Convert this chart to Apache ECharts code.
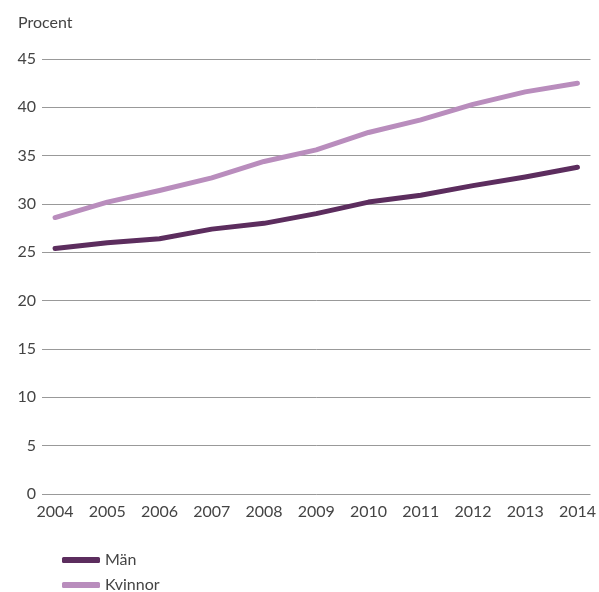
<!DOCTYPE html>
<html><head><meta charset="utf-8">
<script src="https://cdn.jsdelivr.net/npm/echarts@6/dist/echarts.min.js"></script>
<style>html,body{margin:0;padding:0;background:#fff}#c{width:599px;height:592px}</style>
</head><body><div id="c"></div>
<script>
const years = [2004,2005,2006,2007,2008,2009,2010,2011,2012,2013,2014];
const man = [25.4,26.0,26.4,27.4,28.0,29.0,30.2,30.9,31.9,32.8,33.8];
const kvinnor = [28.6,30.2,31.4,32.7,34.4,35.6,37.4,38.7,40.3,41.6,42.5];
const yTicks = [0,5,10,15,20,25,30,35,40,45];

const font = 'Lato';
const legendText = {fontFamily:font,fontSize:16,color:'#444'};
const chart = echarts.init(document.getElementById('c'));
chart.setOption({
  animation:false,
  textStyle:{fontFamily:font},
  title:{text:'Procent',left:13,top:10,textStyle:{fontFamily:font,fontSize:16,fontWeight:'normal',color:'#444'}},
  grid:{left:42,right:1,top:59,bottom:98},
  legend:[
    {left:62,top:552,padding:0,itemWidth:38,itemHeight:6,icon:'roundRect',textStyle:legendText,data:['Män']},
    {left:62,top:577,padding:0,itemWidth:38,itemHeight:6,icon:'roundRect',textStyle:legendText,data:['Kvinnor']}
  ],
  xAxis:{type:'value',min:2003.75,max:2014.25,
    axisLine:{show:false},axisTick:{show:false},splitLine:{show:false},
    axisLabel:{customValues:years,color:'#444',fontSize:16,margin:10,fontFamily:font,formatter:v=>String(v)}},
  yAxis:{type:'value',min:0,max:45,interval:5,
    axisLine:{show:false},axisTick:{show:false},
    splitLine:{lineStyle:{color:'#999',width:1}},
    axisLabel:{color:'#444',fontSize:16,margin:6,fontFamily:font}},
  series:[
    {name:'Män',type:'line',data:years.map((y,i)=>[y,man[i]]),symbol:'none',
     lineStyle:{color:'#5c2d5e',width:5,cap:'round',join:'round'},itemStyle:{color:'#5c2d5e'}},
    {name:'Kvinnor',type:'line',data:years.map((y,i)=>[y,kvinnor[i]]),symbol:'none',
     lineStyle:{color:'#b98dbd',width:5,cap:'round',join:'round'},itemStyle:{color:'#b98dbd'}}
  ]
});
</script></body></html>
